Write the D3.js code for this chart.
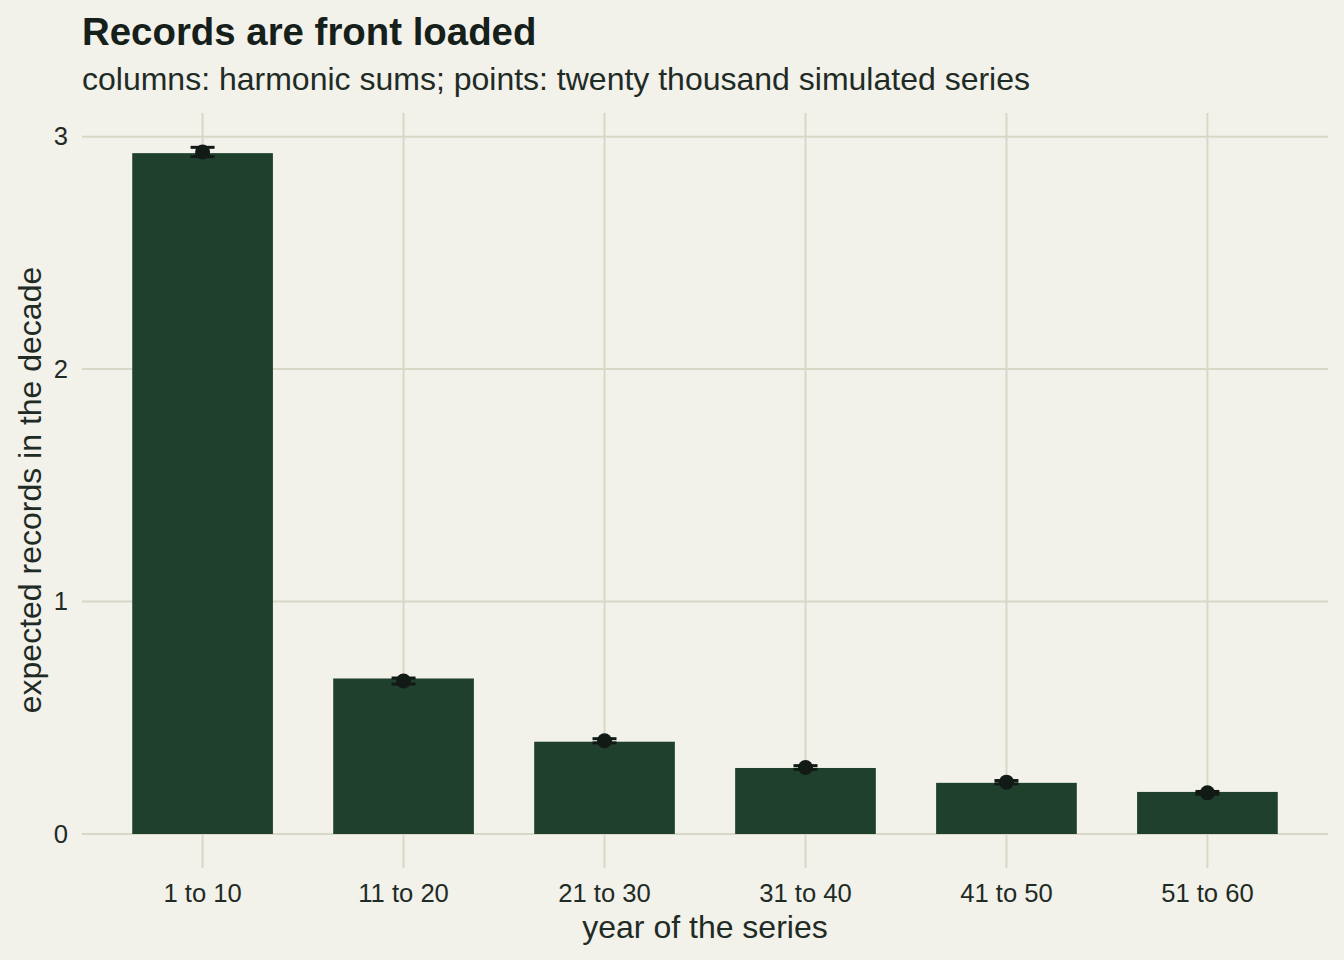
<!DOCTYPE html>
<html>
<head>
<meta charset="utf-8">
<script src="https://cdn.jsdelivr.net/npm/d3@7.9.0/dist/d3.min.js"></script>
<style>
  body { margin: 0; background: #f2f1ea; }
  svg { display: block; font-family: "Liberation Sans", Arial, Helvetica, sans-serif; }
</style>
</head>
<body>
<svg id="chart" width="1344" height="960"></svg>
<script>
// decades of the series
const categories = ['1 to 10', '11 to 20', '21 to 30', '31 to 40', '41 to 50', '51 to 60'];
// columns: harmonic sums per decade
const harmonic = [2.929, 0.669, 0.397, 0.284, 0.220, 0.181];
// points: simulated means and half-width of error bars
const simulated = [2.934, 0.658, 0.401, 0.286, 0.223, 0.177];
const simErr = [0.020, 0.013, 0.009, 0.008, 0.007, 0.006];
const yTicks = [0, 1, 2, 3];

const W = 1344, H = 960;
const margin = { left: 82, right: 16, top: 113, bottom: 126 };

const bg = '#f2f1ea', barColor = '#20402e', ink = '#121a16', textColor = '#1f2b25', gridColor = '#d8d8c7';

const svg = d3.select('#chart');
svg.append('rect').attr('width', W).attr('height', H).attr('fill', bg);

let x = d3.scaleBand()
    .domain(categories)
    .range([margin.left, W - margin.right])
    .paddingInner(0.3)
    .paddingOuter(0.25);

let yMax = d3.max(simulated.map((d, i) => d + simErr[i])) * 1.05;
let y = d3.scaleLinear()
    .domain([0, yMax])
    .range([H - margin.bottom, margin.top]);

// gridlines
let grid = svg.append('g');
yTicks.forEach((t) => {
    grid.append('line')
        .attr('x1', margin.left).attr('x2', W - margin.right)
        .attr('y1', y(t)).attr('y2', y(t))
        .attr('stroke', gridColor).attr('stroke-width', 2);
});
categories.forEach((c) => {
    let cx = x(c) + x.bandwidth() / 2;
    grid.append('line')
        .attr('x1', cx).attr('x2', cx)
        .attr('y1', margin.top).attr('y2', y(0) + 34)
        .attr('stroke', gridColor).attr('stroke-width', 2);
});

// columns
svg.append('g').selectAll('rect')
    .data(harmonic)
    .join('rect')
    .attr('x', (d, i) => x(categories[i]))
    .attr('width', x.bandwidth())
    .attr('y', (d) => y(d))
    .attr('height', (d) => y(0) - y(d))
    .attr('fill', barColor);

// error bars + points
let pts = svg.append('g');
simulated.forEach((d, i) => {
    let cx = x(categories[i]) + x.bandwidth() / 2;
    let top = y(d + simErr[i]), bot = y(d - simErr[i]);
    pts.append('line')
        .attr('x1', cx).attr('x2', cx).attr('y1', top).attr('y2', bot)
        .attr('stroke', ink).attr('stroke-width', 3);
    [top, bot].forEach((yy) => {
        pts.append('line')
            .attr('x1', cx - 12).attr('x2', cx + 12).attr('y1', yy).attr('y2', yy)
            .attr('stroke', ink).attr('stroke-width', 3);
    });
    pts.append('circle')
        .attr('cx', cx).attr('cy', y(d)).attr('r', 7.5)
        .attr('fill', ink);
});

const font = '"Liberation Sans", Arial, Helvetica, sans-serif';

// axis labels
let xAxis = d3.axisBottom(x).tickSize(0).tickPadding(0);
let gx = svg.append('g')
    .attr('transform', `translate(0, ${y(0) + 50})`)
    .call(xAxis);
gx.select('.domain').remove();
gx.selectAll('text')
    .attr('fill', textColor)
    .attr('font-size', 25.6)
    .attr('font-family', font)
    .attr('dy', '0.71em');

let yAxis = d3.axisLeft(y).tickValues(yTicks).tickFormat(d3.format('d')).tickSize(0).tickPadding(0);
let gy = svg.append('g')
    .attr('transform', `translate(68, 0)`)
    .call(yAxis);
gy.select('.domain').remove();
gy.selectAll('text')
    .attr('fill', textColor)
    .attr('font-size', 25.6)
    .attr('font-family', font);

// titles
svg.append('text')
    .attr('x', 82).attr('y', 45)
    .attr('font-size', 38.4).attr('font-weight', 'bold')
    .attr('fill', '#16201b')
    .text('Records are front loaded');

svg.append('text')
    .attr('x', 82).attr('y', 90)
    .attr('font-size', 32)
    .attr('fill', textColor)
    .text('columns: harmonic sums; points: twenty thousand simulated series');

svg.append('text')
    .attr('x', (margin.left + W - margin.right) / 2).attr('y', 938)
    .attr('text-anchor', 'middle')
    .attr('font-size', 32)
    .attr('fill', textColor)
    .text('year of the series');

svg.append('text')
    .attr('transform', `translate(41, 490) rotate(-90)`)
    .attr('text-anchor', 'middle')
    .attr('font-size', 32)
    .attr('fill', textColor)
    .text('expected records in the decade');
</script>
</body>
</html>
